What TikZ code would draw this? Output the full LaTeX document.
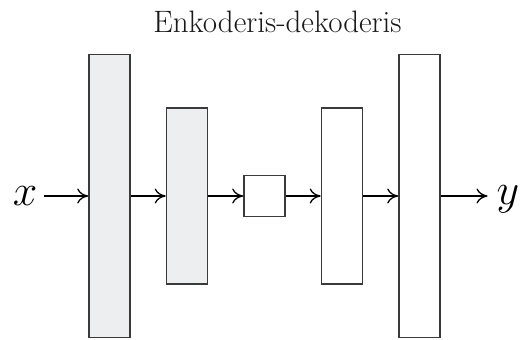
\RequirePackage{fix-cm}
\documentclass[tikz,border=0pt]{standalone}
\usepackage{fontspec}
\usetikzlibrary{arrows.meta}
\definecolor{boxgray}{HTML}{EDEEF0}
\definecolor{edge}{HTML}{3A3A3A}
\begin{document}
\begin{tikzpicture}[x=1pt,y=-1pt,
  layer/.style={draw=edge,line width=1.6pt,inner sep=0pt,minimum width=41pt},
  enc/.style={layer,fill=boxgray},
  dec/.style={layer,fill=white},
  flow/.style={line width=1.3pt,-{To[length=11pt,width=15pt,line width=1.3pt]}},
  lbl/.style={inner sep=0pt,font=\fontsize{44}{48}\selectfont}]
\useasboundingbox (0,0) rectangle (520,340);
\node[font=\fontsize{31}{34}\selectfont,text=black!90,inner sep=0pt,anchor=base] (title) at (277.5,32) {Enkoderis-dekoderis};
\node[enc,minimum height=283pt] (b1) at (109.5,196) {};
\node[enc,minimum height=176pt] (b2) at (187,196) {};
\node[dec,minimum height=41pt]  (b3) at (264.5,196) {};
\node[dec,minimum height=176pt] (b4) at (342,196) {};
\node[dec,minimum height=283pt] (b5) at (419.5,196) {};
\node[lbl,anchor=base] (x) at (25,205) {$x$};
\node[lbl,anchor=base] (y) at (508,204) {$y$};
\draw[flow] ([xshift=7pt]x.east |- b1.west) -- (b1.west);
\draw[flow] (b1.east) -- (b2.west);
\draw[flow] (b2.east) -- (b3.west);
\draw[flow] (b3.east) -- (b4.west);
\draw[flow] (b4.east) -- (b5.west);
\draw[flow] (b5.east) -- ([xshift=-9pt]y.west |- b5.east);
\end{tikzpicture}
\end{document}
